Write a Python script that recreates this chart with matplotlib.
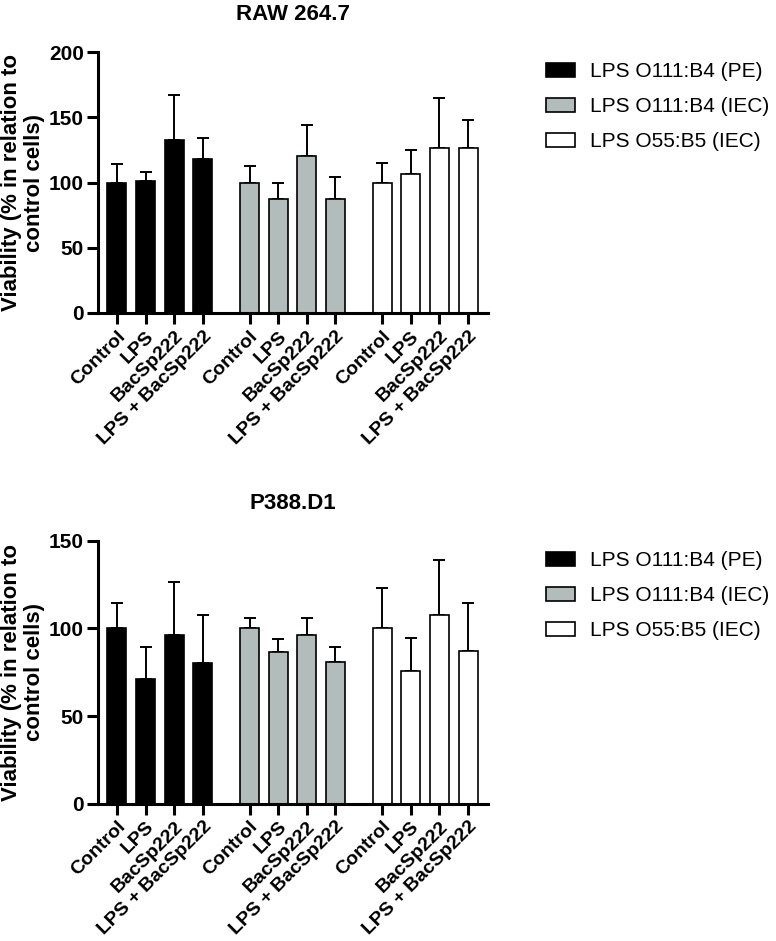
import matplotlib
matplotlib.use('Agg')
import matplotlib.pyplot as plt
from matplotlib.patches import Patch
import numpy as np

plt.rcParams['font.family'] = ['Liberation Sans', 'DejaVu Sans']

# -------------------------------
# Data
# -------------------------------
treatments = ['Control', 'LPS', 'BacSp222', 'LPS + BacSp222']
series = ['LPS O111:B4 (PE)', 'LPS O111:B4 (IEC)', 'LPS O55:B5 (IEC)']
colors = ['#000000', '#b1bcbb', '#ffffff']

raw_mean = [[100, 101, 132.6, 118.3],
            [100, 87, 120.5, 87],
            [100, 106.5, 126.7, 126.4]]
raw_sd = [[14, 7, 34.5, 15.5],
          [12.4, 12.6, 23.3, 17],
          [15.2, 18.5, 38.3, 21.6]]

p388_mean = [[100, 71.1, 96.3, 80.1],
             [100, 86.4, 96.3, 80.9],
             [100, 75.5, 107.5, 87.1]]
p388_sd = [[14.6, 18.5, 30.3, 27.4],
           [6, 7.8, 9.7, 8.4],
           [23, 19.1, 31.5, 27.5]]

panels = [
    ('RAW 264.7', raw_mean, raw_sd, 200, [0, 50, 100, 150, 200]),
    ('P388.D1', p388_mean, p388_sd, 150, [0, 50, 100, 150]),
]

# -------------------------------
# Figure
# -------------------------------
fig = plt.figure(figsize=(7.76, 9.41), dpi=100)
axes_rects = [[0.1263, 0.6674, 0.5027, 0.2773],
              [0.1263, 0.1461, 0.5027, 0.2790]]

gap = 1.63
bar_w = 0.66

for (title, means, sds, ymax, yticks), rect in zip(panels, axes_rects):
    ax = fig.add_axes(rect)
    xpos_all = []
    for g, (m, s, c) in enumerate(zip(means, sds, colors)):
        x = np.arange(len(treatments)) + g * (len(treatments) - 1 + gap)
        xpos_all.extend(x)
        ax.bar(x, m, width=bar_w, color=c, edgecolor='black', linewidth=1.2, zorder=2)
        ax.errorbar(x, m, yerr=[np.zeros(len(m)), s], fmt='none', ecolor='black',
                    elinewidth=1.4, capsize=4.5, capthick=1.4, zorder=1)

    ax.set_xlim(-0.66, xpos_all[-1] + 0.7)
    ax.set_ylim(0, ymax)
    ax.set_yticks(yticks)
    ax.set_xticks(xpos_all)
    ax.set_xticklabels(treatments * 3, rotation=45, ha='right', va='top',
                       rotation_mode='anchor', fontsize=14, fontweight='bold')
    for lab in ax.get_yticklabels():
        lab.set_fontsize(15)
        lab.set_fontweight('bold')

    for sp in ['top', 'right']:
        ax.spines[sp].set_visible(False)
    for sp in ['left', 'bottom']:
        ax.spines[sp].set_linewidth(2.2)
    ax.tick_params(axis='both', width=2.2, length=8, pad=2)
    ax.tick_params(axis='x', pad=2.5)

    ax.set_ylabel('Viability (% in relation to\ncontrol cells)', fontsize=16,
                  fontweight='bold', linespacing=1.15)
    ax.yaxis.set_label_coords(-0.135, 0.5)
    ax.set_title(title, fontsize=16, fontweight='bold', pad=23)

    handles = [Patch(facecolor=c, edgecolor='black', linewidth=1.2) for c in colors]
    top = rect[1] + rect[3]
    fig.legend(handles, series, loc='upper left',
               bbox_to_anchor=(0.703, top - 0.011), frameon=False,
               fontsize=15, handlelength=1.4, handleheight=0.65,
               handletextpad=0.75, labelspacing=0.76, borderpad=0, borderaxespad=0)

fig.savefig('out.png', dpi=100)
